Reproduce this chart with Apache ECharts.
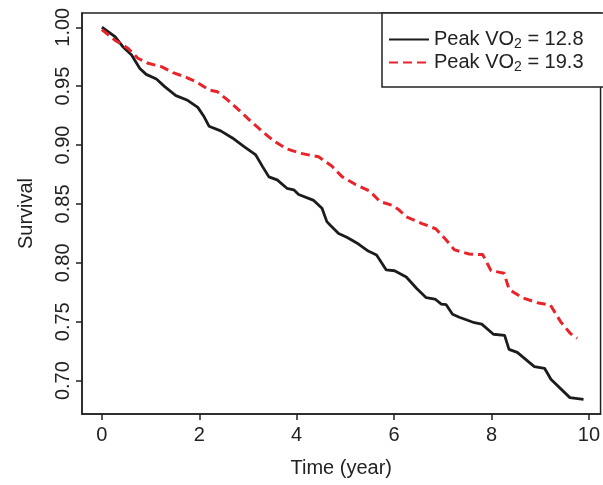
<!DOCTYPE html>
<html>
<head>
<meta charset="utf-8">
<script src="https://cdn.jsdelivr.net/npm/echarts@6/dist/echarts.min.js"></script>
<style>
  html, body { margin: 0; padding: 0; background: #fff; }
  #main { width: 603px; height: 485px; }
</style>
</head>
<body>
<div id="main"></div>
<script>
// survival curves
var lowTime = [0, 0.27, 0.43, 0.61, 0.78, 0.91, 1.12, 1.29, 1.52, 1.76, 1.97, 2.10, 2.20, 2.44, 2.68,
  2.92, 3.16, 3.30, 3.43, 3.60, 3.80, 3.94, 4.04, 4.35, 4.52, 4.62, 4.69, 4.86, 5.03, 5.27, 5.47,
  5.64, 5.84, 6.01, 6.25, 6.46, 6.66, 6.84, 6.97, 7.07, 7.20, 7.34, 7.65, 7.80, 8.04, 8.27, 8.36,
  8.53, 8.88, 9.09, 9.22, 9.61, 9.89];
var lowSurv = [1.000, 0.992, 0.9835, 0.9765, 0.965, 0.960, 0.956, 0.9496, 0.942, 0.938, 0.932, 0.924, 0.916, 0.912, 0.906,
  0.8986, 0.8916, 0.8817, 0.873, 0.8704, 0.8633, 0.862, 0.858, 0.853, 0.8463, 0.835, 0.832, 0.825, 0.8217, 0.816, 0.810,
  0.8067, 0.794, 0.7933, 0.788, 0.7784, 0.7704, 0.7693, 0.765, 0.7645, 0.7563, 0.7538, 0.7492, 0.748, 0.7394, 0.7385, 0.7266,
  0.724, 0.7119, 0.7105, 0.7012, 0.6856, 0.6842];

var highTime = [0, 0.27, 0.54, 0.74, 0.95, 1.22, 1.46, 1.73, 1.93, 2.20, 2.37, 2.58, 2.85, 3.05,
  3.30, 3.53, 3.80, 4.08, 4.45, 4.72, 4.93, 5.20, 5.50, 5.71, 5.95, 6.10, 6.25, 6.56, 6.86, 7.07,
  7.24, 7.54, 7.82, 7.99, 8.26, 8.36, 8.63, 8.94, 9.21, 9.42, 9.62, 9.76];
var highSurv = [0.998, 0.989, 0.982, 0.9737, 0.9694, 0.9666, 0.9615, 0.9575, 0.9538, 0.9468, 0.9453, 0.9383, 0.9283, 0.9205,
  0.9114, 0.9035, 0.8967, 0.893, 0.890, 0.8822, 0.8732, 0.8667, 0.861, 0.852, 0.849, 0.845, 0.839, 0.8336, 0.8288, 0.8194,
  0.811, 0.8075, 0.807, 0.7934, 0.7912, 0.7776, 0.7704, 0.7662, 0.7642, 0.750, 0.740, 0.736];

var xTicks = [0, 2, 4, 6, 8, 10];
var yTicks = [0.70, 0.75, 0.80, 0.85, 0.90, 0.95, 1.00];

function pairs(xs, ys) {
  return xs.map(function (x, i) { return [x, ys[i]]; });
}

var font = 'Liberation Sans, Arial, Helvetica, sans-serif';
var ink = '#222';

var chart = echarts.init(document.getElementById('main'));

var option = {
  animation: false,
  backgroundColor: '#fff',
  textStyle: { fontFamily: font, color: ink },
  grid: {
    left: 82, top: 13, right: -1, bottom: 71,
    show: true, borderColor: ink, borderWidth: 1.5, backgroundColor: 'transparent'
  },
  legend: {
    orient: 'vertical',
    left: 382, top: 13,
    padding: [15, 30, 13, 6],
    itemWidth: 40, itemHeight: 20, itemGap: 0,
    borderColor: ink, borderWidth: 1.5, backgroundColor: '#fff',
    itemStyle: { opacity: 0 },
    formatter: function (name) {
      return name === 'low' ? '{a|Peak VO}{s|2}{a| = 12.8}' : '{a|Peak VO}{s|2}{a| = 19.3}';
    },
    textStyle: {
      rich: {
        a: { fontSize: 20, fontFamily: font, color: ink, lineHeight: 22 },
        s: { fontSize: 14, fontFamily: font, color: ink, lineHeight: 22, padding: [9, 0, 0, 0] }
      }
    },
    data: ['low', 'high']
  },
  xAxis: {
    type: 'value',
    min: -0.408, max: 10.24,
    name: 'Time (year)',
    nameLocation: 'middle',
    nameGap: 44,
    nameTextStyle: { fontSize: 20, color: ink, fontFamily: font },
    axisLine: { show: true, onZero: false, lineStyle: { color: ink, width: 1.5 } },
    splitLine: { show: false },
    axisTick: {
      show: true, inside: false, length: 6,
      customValues: xTicks,
      lineStyle: { color: ink, width: 1.5 }
    },
    axisLabel: {
      customValues: xTicks,
      fontSize: 20, color: ink, margin: 11, fontFamily: font
    }
  },
  yAxis: {
    type: 'value',
    position: 'left',
    min: 0.6717, max: 1.0121,
    name: 'Survival',
    nameLocation: 'middle',
    nameRotate: 90,
    nameGap: 46,
    nameTextStyle: { fontSize: 20, color: ink, fontFamily: font },
    axisLine: { show: true, onZero: false, lineStyle: { color: ink, width: 1.5 } },
    splitLine: { show: false },
    axisTick: {
      show: true, inside: false, length: 6,
      customValues: yTicks,
      lineStyle: { color: ink, width: 1.5 }
    },
    axisLabel: {
      customValues: yTicks,
      rotate: 90,
      fontSize: 20, color: ink, margin: 9, fontFamily: font,
      formatter: function (v) { return v.toFixed(2); }
    }
  },
  series: [{
    name: 'low',
    type: 'line',
    symbol: 'none',
    data: pairs(lowTime, lowSurv),
    lineStyle: { color: '#1c1c1c', width: 2.8 },
    itemStyle: { color: '#1c1c1c' }
  }, {
    name: 'high',
    type: 'line',
    symbol: 'none',
    data: pairs(highTime, highSurv),
    lineStyle: { color: '#ea2229', width: 3, type: [9, 5] },
    itemStyle: { color: '#ea2229' }
  }]
};

chart.setOption(option);
</script>
</body>
</html>
